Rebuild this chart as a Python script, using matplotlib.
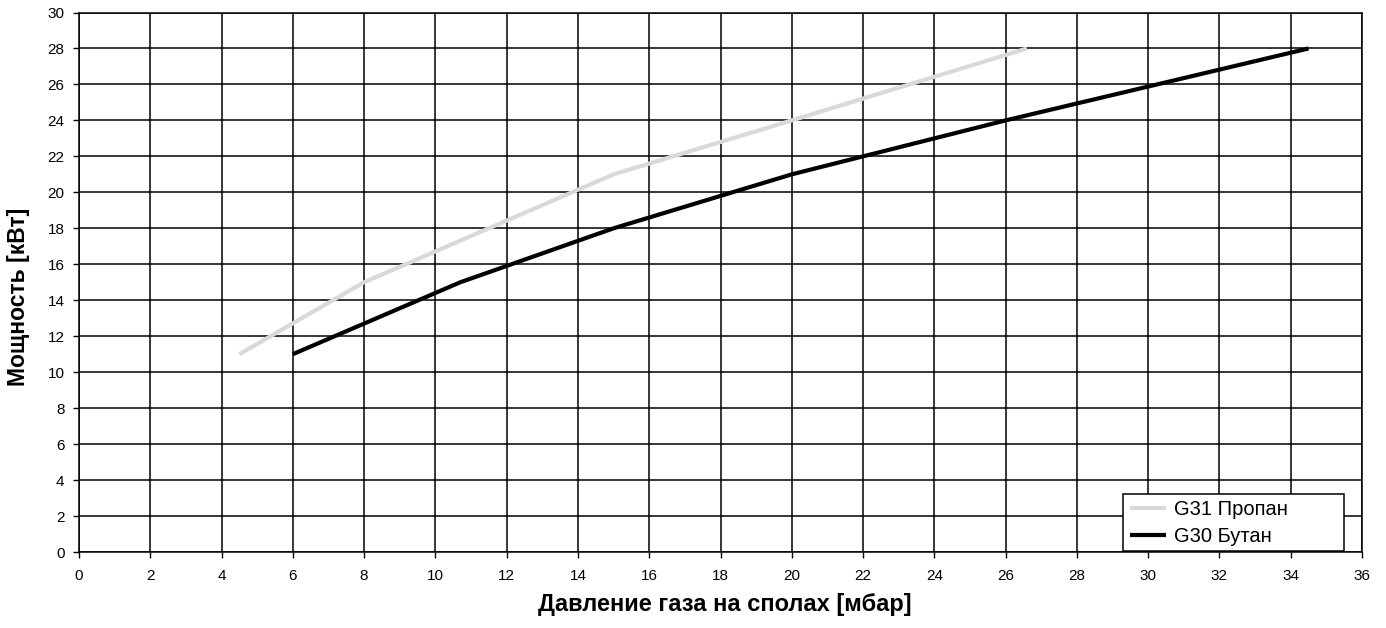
import matplotlib
matplotlib.use("Agg")
import matplotlib.pyplot as plt
from matplotlib.ticker import MultipleLocator
from matplotlib.patches import Rectangle

plt.rcParams['font.family'] = ['Liberation Sans', 'DejaVu Sans']

propane_x = [4.5, 8.0, 15.0, 20.0, 26.6]
propane_y = [11.0, 15.0, 21.0, 24.0, 28.0]
butane_x = [6.0, 10.7, 15.0, 20.0, 26.0, 34.5]
butane_y = [11.0, 15.0, 18.0, 21.0, 24.0, 28.0]
labels = ["G31 Пропан", "G30 Бутан"]
xlabel = "Давление газа на сполах [мбар]"
ylabel = "Мощность [кВт]"

fig = plt.figure(figsize=(13.86, 6.28), dpi=100)
ax = fig.add_axes([79/1386, 76/628, (1362-79)/1386, (552-12.5)/628])

ax.plot(propane_x, propane_y, color='#d9d9d9', lw=3.0, label=labels[0], solid_capstyle='butt', zorder=3)
ax.plot(butane_x, butane_y, color='black', lw=3.0, label=labels[1], solid_capstyle='butt', zorder=3)

ax.set_xlim(0, 36)
ax.set_ylim(0, 30)
ax.xaxis.set_major_locator(MultipleLocator(2))
ax.yaxis.set_major_locator(MultipleLocator(2))
ax.grid(True, color='black', lw=1.1)
ax.set_axisbelow(True)
for s in ax.spines.values():
    s.set_color('black')
    s.set_linewidth(1.1)
ax.tick_params(direction='out', length=4, width=1, labelsize=11)
ax.tick_params(axis='x', pad=8.5)
ax.tick_params(axis='y', pad=6.5)

ax.set_xlabel(xlabel, fontsize=17, fontweight='bold', labelpad=7)
ax.xaxis.label.set_x(0.5035)
ax.set_ylabel(ylabel, fontsize=16.5, fontweight='bold')
ax.yaxis.set_label_coords(-0.038, 0.473)

# legend frame (wider than its content, as in the reference)
frame = Rectangle((0.8137, 0.002), 0.986 - 0.8137, 0.1055, transform=ax.transAxes,
                  facecolor='white', edgecolor='black', lw=1.1, zorder=4)
ax.add_patch(frame)
leg = ax.legend(loc='upper left', bbox_to_anchor=(0.819, 0.096), fontsize=14.5, frameon=False,
                handlelength=1.8, borderpad=0.0, labelspacing=0.38, handletextpad=0.4,
                borderaxespad=0.0)
leg.set_zorder(5)

fig.savefig("out.png", dpi=100)
